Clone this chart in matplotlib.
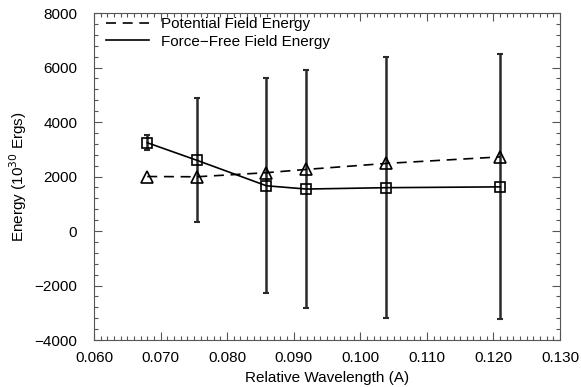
import matplotlib
matplotlib.use("Agg")
import matplotlib.pyplot as plt
from matplotlib.ticker import MultipleLocator, FormatStrFormatter

plt.rcParams['font.family'] = ['Liberation Sans', 'DejaVu Sans']

# relative wavelength (A)
wavelength = [0.0680, 0.0754, 0.0859, 0.0919, 0.1039, 0.1210]
# energies in 1e30 ergs
potential = [2000, 1990, 2140, 2260, 2480, 2720]
force_free = [3240, 2600, 1660, 1540, 1590, 1620]
ff_err = [275, 2265, 3950, 4370, 4785, 4865]

fig = plt.figure(figsize=(5.81, 3.87), dpi=100)
ax = fig.add_axes([0.1618, 0.1214, 0.8021, 0.845])

ax.errorbar(wavelength, force_free, yerr=ff_err, fmt='none', ecolor='#2a2a2a',
            elinewidth=1.8, capsize=2, capthick=1.5, zorder=2)
ax.plot(wavelength, potential, color='black', lw=1.2, ls=(0, (6, 4)),
        marker='^', ms=8, mfc='none', mec='black', mew=1.2,
        label='Potential Field Energy', zorder=3)
ax.plot(wavelength, force_free, color='black', lw=1.2, ls='-',
        marker='s', ms=7, mfc='none', mec='black', mew=1.2,
        label='Force\u2212Free Field Energy', zorder=3)

ax.set_xlim(0.060, 0.130)
ax.set_ylim(-4000, 8000)
ax.xaxis.set_major_locator(MultipleLocator(0.010))
ax.xaxis.set_minor_locator(MultipleLocator(0.001))
ax.xaxis.set_major_formatter(FormatStrFormatter('%.3f'))
ax.yaxis.set_major_locator(MultipleLocator(2000))
ax.yaxis.set_minor_locator(MultipleLocator(400))
ax.yaxis.set_major_formatter(lambda v, p: f'{int(v)}'.replace('-', '\u2212'))

ax.tick_params(which='both', direction='in', top=True, right=True,
               labelsize=11, width=0.8, color='#555555')
ax.tick_params(axis='x', pad=8)
ax.tick_params(axis='y', pad=12)
ax.tick_params(which='major', length=6)
ax.tick_params(which='minor', length=3)
for s in ax.spines.values():
    s.set_linewidth(0.8)
    s.set_color('#555555')

ax.set_xlabel('Relative Wavelength (A)', fontsize=11, labelpad=4)
ax.set_ylabel('Energy (10$^{30}$ Ergs)', fontsize=11, labelpad=4)

leg = ax.legend(loc='upper left', bbox_to_anchor=(0.013, 1.005), frameon=False,
                fontsize=11, handlelength=2.8, handletextpad=0.8,
                borderaxespad=0.0, labelspacing=0.2)
for h in leg.legend_handles:
    h.set_marker('')

plt.savefig('out.png', dpi=100)
